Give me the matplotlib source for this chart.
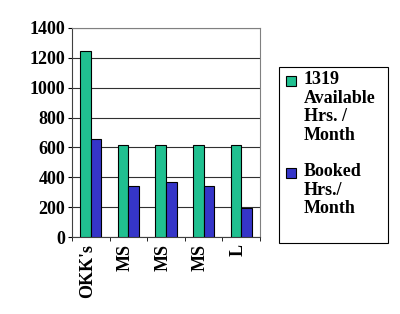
import numpy as np
import matplotlib.pyplot as plt
from matplotlib.patches import Rectangle

categories = ["OKK's", "MS", "MS", "MS", "L"]
available = [1245, 615, 615, 615, 615]
booked = [655, 345, 370, 345, 195]
series_names = ["1319\nAvailable\nHrs. /\nMonth", "Booked\nHrs./\nMonth"]

plt.rcParams['font.family'] = ['Liberation Serif', 'DejaVu Serif']
plt.rcParams['font.weight'] = 'bold'

W, H = 400, 314
fig = plt.figure(figsize=(4, 3.14), dpi=100)
ax = fig.add_axes([0.18, 0.245, 0.47, 0.666])

x = np.arange(len(categories))
w = 0.28
green = '#20c090'
blue = '#3535c8'
colors = [green, blue]
ax.bar(x - w / 2, available, w, color=green, edgecolor='black', linewidth=0.8, zorder=3)
ax.bar(x + w / 2, booked, w, color=blue, edgecolor='black', linewidth=0.8, zorder=3)

ax.set_ylim(0, 1400)
ax.set_xlim(-0.5, len(categories) - 0.5)
ax.set_yticks(range(0, 1401, 200))
ax.yaxis.grid(True, color='#303030', linewidth=0.8, zorder=0)
ax.set_xticks(x - 0.08)
ax.set_xticks(np.arange(-0.5, len(categories)), minor=True)
ax.set_xticklabels(categories, rotation=90, fontsize=13, fontweight='bold')
ax.tick_params(axis='y', labelsize=13, length=3, pad=2)
ax.tick_params(axis='x', which='major', length=0, pad=5)
ax.tick_params(axis='x', which='minor', length=3)
for s in ['top', 'right']:
    ax.spines[s].set_color('#808080')
for s in ['left', 'bottom']:
    ax.spines[s].set_color('#404040')
for t in ax.get_yticklabels():
    t.set_fontweight('bold')

# legend box drawn by hand so each swatch sits by the first line of its label
fig.add_artist(Rectangle((279 / W, 1 - 243 / H), 109 / W, 176 / H,
                         transform=fig.transFigure, facecolor='white',
                         edgecolor='black', linewidth=0.8))
entry_tops = [71, 163]
for name, c, top in zip(series_names, colors, entry_tops):
    fig.add_artist(Rectangle((286 / W, 1 - (top + 15) / H), 10 / W, 10 / H,
                             transform=fig.transFigure, facecolor=c,
                             edgecolor='black', linewidth=0.8))
    fig.text(304 / W, 1 - top / H, name, ha='left', va='top', fontsize=13,
             fontweight='bold', linespacing=1.12)

fig.savefig('out.png', dpi=100)
